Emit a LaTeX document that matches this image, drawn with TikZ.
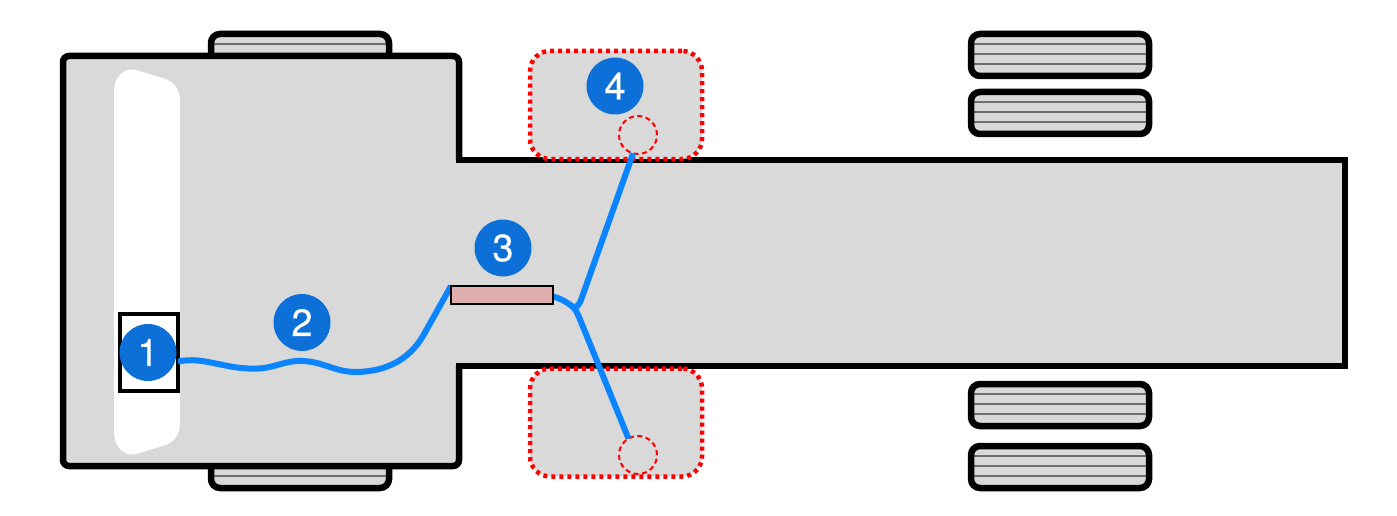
\documentclass[tikz,border=0pt]{standalone}
\usepackage{fontspec}
\setmainfont{TeX Gyre Heros}
\newfontfamily\badgefont[FakeBold=0.35]{TeX Gyre Heros}
\definecolor{bodygray}{HTML}{D9D9D9}
\definecolor{treadgray}{HTML}{6E6E6E}
\definecolor{wireblue}{HTML}{0A84FF}
\definecolor{badgeblue}{HTML}{0D70D8}
\definecolor{modpink}{HTML}{E0AEAE}
\tikzset{
  tirebox/.style={draw=black,line width=6.5pt,rounded corners=9pt},
  treadline/.style={draw=treadgray,line width=2pt},
  zonebox/.style={draw=red,fill=bodygray,line width=4.5pt,dash pattern=on 4pt off 4pt,rounded corners=20pt,minimum width=172pt,minimum height=108pt,inner sep=0pt,outer sep=0pt},
  portring/.style={draw=red,circle,line width=2pt,dash pattern=on 5pt off 3.5pt,minimum size=38pt,inner sep=0pt,outer sep=0pt},
  wire/.style={draw=wireblue,line width=6pt},
  badge/.style={circle,fill=badgeblue,text=white,minimum size=57pt,inner sep=0pt,outer sep=0pt,font=\badgefont\fontsize{38}{40}\selectfont},
}
\newcommand{\tirerect}[4]{%
  \fill[bodygray,rounded corners=9pt] (#1,#2) rectangle (#3,#4);
}
\begin{document}
\begin{tikzpicture}[x=1pt,y=-1pt]
\useasboundingbox (0,0) rectangle (1397,516);
% front tires
\tirerect{211}{34}{389}{76}
\draw[treadline] (211,44) -- (389,44);
\draw[tirebox] (211,34) rectangle (389,76);
\tirerect{211}{446}{389}{488}
\draw[treadline] (211,476) -- (389,476);
\draw[tirebox] (211,446) rectangle (389,488);
% rear tires
\foreach \ytop/\ya/\yb/\yc in {34/44/54/64,92/102/112/122,384/394/404/414,446/456/466/476}{
  \tirerect{971}{\ytop}{1149}{\ytop+42}
  \draw[treadline] (971,\ya) -- (1149,\ya) (971,\yb) -- (1149,\yb) (971,\yc) -- (1149,\yc);
  \draw[tirebox] (971,\ytop) rectangle (1149,\ytop+42);
}
% chassis
\fill[bodygray] (63,56) rectangle (459,466) (459,160) rectangle (1345,366);
\draw[line width=6.5pt,line join=miter,rounded corners=6pt]
  (459,160) -- (459,56) -- (63,56) -- (63,466) -- (459,466) -- (459,366);
\draw[line width=6.5pt,line join=miter]
  (456,160) -- (1345,160) -- (1345,366) -- (456,366);
% windshield
\fill[white] (114,92) .. controls (114,77) and (124,67) .. (136,70) -- (164,78.5)
  .. controls (175,82) and (180,90) .. (180,102) -- (180,422)
  .. controls (180,434) and (175,442) .. (164,445.5) -- (136,454)
  .. controls (124,457) and (114,447) .. (114,432) -- cycle;
% modules
\node[draw=black,fill=white,line width=4pt,minimum width=58pt,minimum height=77pt,inner sep=0pt,outer sep=0pt] (ecu) at (149,352.5) {};
% zones
\node[zonebox] (zonetop) at (616,105) {};
\node[zonebox] (zonebot) at (616,422.5) {};
\node[portring] (porttop) at (638,135) {};
\node[portring] (portbot) at (638,455) {};
% wires
\path node[minimum width=102pt,minimum height=18pt,inner sep=0pt,outer sep=0pt] (ctrl) at (502,295) {};
\coordinate (split) at (573,307);
\draw[wire] (ecu.east |- 0,361.5) .. controls (205,356) and (225,370) .. (258,368.5)
  .. controls (275,368) and (285,360) .. (303,361)
  .. controls (325,362) and (335,372.5) .. (358,372)
  .. controls (385,371) and (408,361) .. (423,336) -- (ctrl.north west);
\draw[wire] (ctrl.east |- 0,296.5) .. controls (562,299) and (568,303) .. (split)
  .. controls (576,310) and (577,313) .. (579,317) -- (portbot.120);
\draw[wire] (split) .. controls (577,307.5) and (579,305) .. (581,300) -- (porttop.255);
\draw[black,fill=modpink,line width=2.5pt] (ctrl.south west) rectangle (ctrl.north east);
% badges
\node[badge] (b1) at (148,352.5) {1};
\node[badge] (b2) at (302,322.5) {2};
\node[badge] (b3) at (503,248) {3};
\node[badge] (b4) at (615,86) {4};
\end{tikzpicture}
\end{document}
